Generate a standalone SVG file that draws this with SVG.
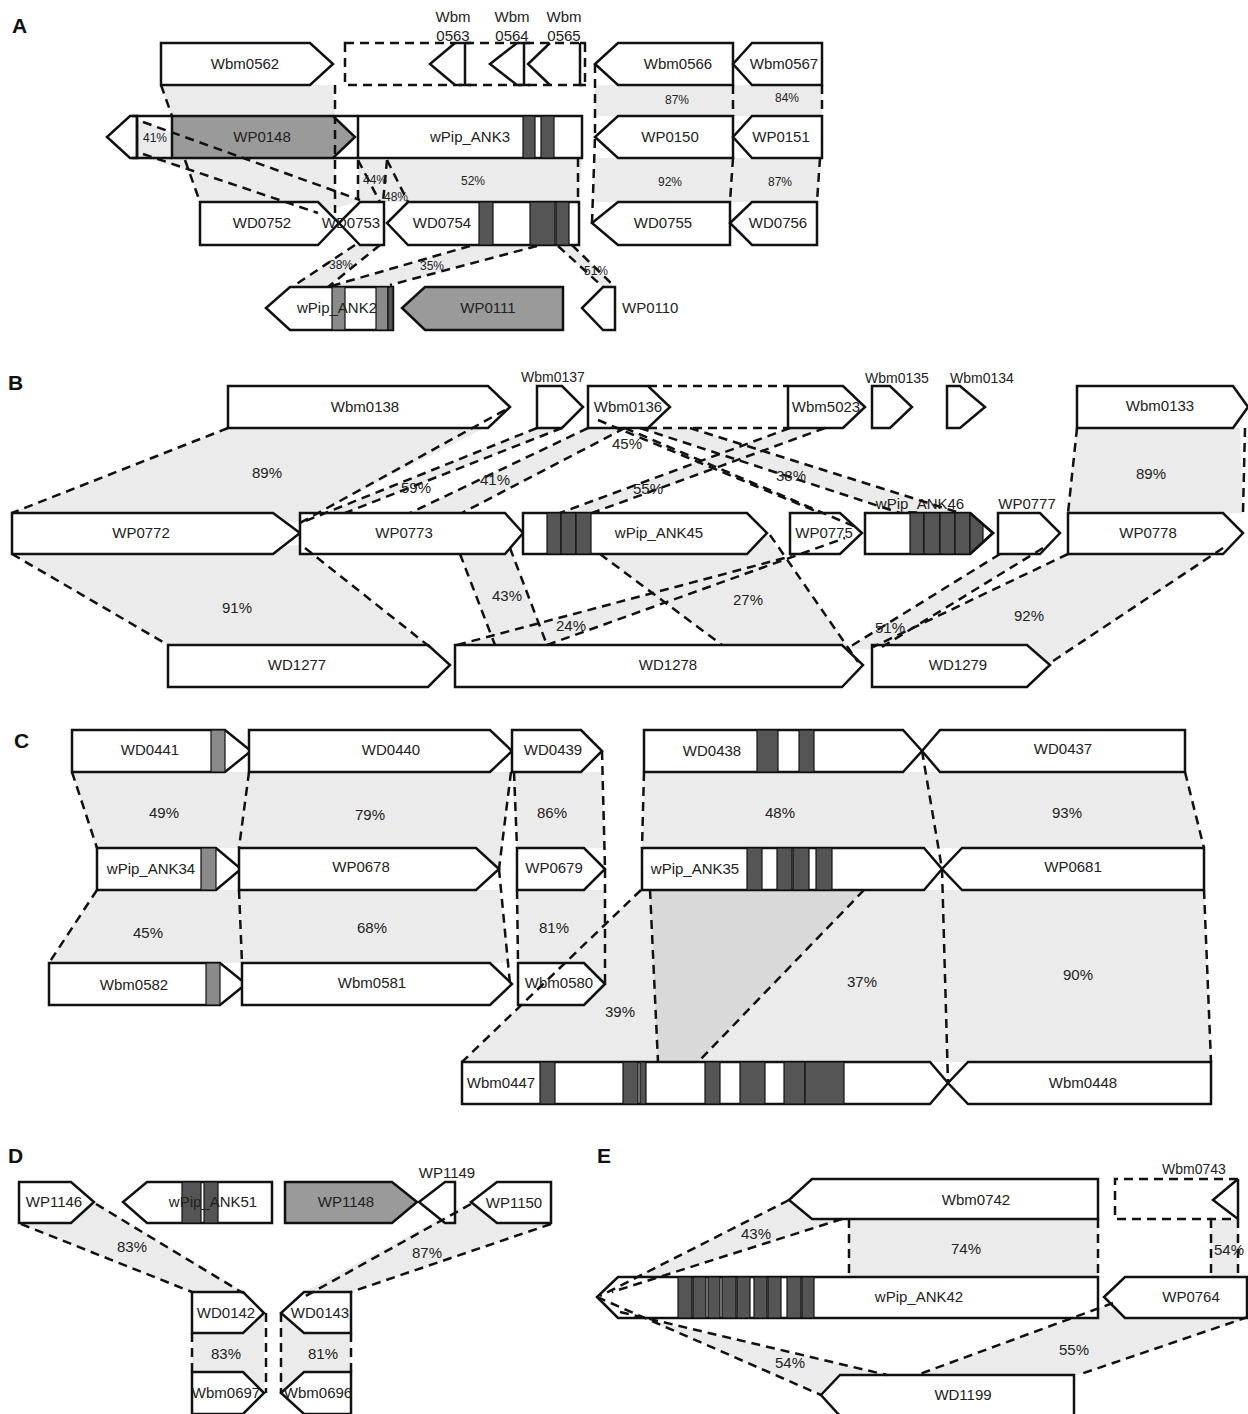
<svg xmlns="http://www.w3.org/2000/svg" width="1248" height="1414" viewBox="0 0 1248 1414">
<style>
.g{fill:#fff;stroke:#111;stroke-width:2.5;stroke-linejoin:miter}
.gg{fill:#9a9a9a;stroke:#111;stroke-width:2.5}
.o{fill:none;stroke:#111;stroke-width:2.5}
.bd{fill:#555;stroke:#111;stroke-width:1.2}
.bm{fill:#8a8a8a;stroke:#111;stroke-width:1.2}
.sh{fill:#ebebeb;stroke:none}
.sd{fill:#d9d9d9;stroke:none}
.dl{fill:none;stroke:#111;stroke-width:2.5;stroke-dasharray:9 6}
text{font-family:"Liberation Sans",Arial,sans-serif;fill:#222}
.t{font-size:15px;text-anchor:middle}
.ts{font-size:14px;text-anchor:middle}
.p{font-size:15px;text-anchor:middle}
.ps{font-size:12px;text-anchor:middle}
.L{font-size:21px;font-weight:bold;fill:#111}
</style>
<rect width="1248" height="1414" fill="#fff"/>

<g id="shades">
<!-- A -->
<polygon class="sh" points="161,85 333,85 335,116 172,116"/>
<polygon class="sh" points="138,120 360,201 325,211 138,156"/>
<polygon class="sh" points="185,158 335,158 335,202 200,202"/>
<polygon class="sh" points="358,158 582,158 579,202 358,202"/>
<polygon class="sh" points="595,85 733,85 733,116 595,116"/>
<polygon class="sh" points="733,85 822,85 822,116 733,116"/>
<polygon class="sh" points="595,158 733,158 730,202 592,202"/>
<polygon class="sh" points="733,158 822,158 817,202 730,202"/>
<polygon class="sh" points="355,245 380,245 328,287 292,287"/>
<polygon class="sh" points="470,246 537,246 390,285 328,287"/>
<polygon class="sh" points="558,246 572,245 615,287 603,287"/>
<!-- B -->
<polygon class="sh" points="228,428 500,420 300,522 12,513"/>
<polygon class="sh" points="537,428 562,428 345,513 303,522"/>
<polygon class="sh" points="588,428 625,428 462,513 410,513"/>
<polygon class="sh" points="598,420 625,428 858,528 820,513"/>
<polygon class="sh" points="640,428 690,428 960,513 900,513"/>
<polygon class="sh" points="790,428 825,428 592,513 560,513"/>
<polygon class="sh" points="1077,428 1240,428 1243,513 1068,513"/>
<polygon class="sh" points="12,554 300,545 430,647 168,645"/>
<polygon class="sh" points="460,554 510,548 547,645 495,645"/>
<polygon class="sh" points="457,645 792,556 845,538 547,645"/>
<polygon class="sh" points="600,554 747,554 767,535 858,660 842,645 722,645"/>
<polygon class="sh" points="1000,554 1043,548 877,650 848,648"/>
<polygon class="sh" points="1068,554 1223,550 1050,663 873,647"/>
<!-- C -->
<polygon class="sh" points="72,772 249,772 239,848 97,848"/>
<polygon class="sh" points="249,772 511,772 499,869 239,848"/>
<polygon class="sh" points="512,772 602,772 605,848 517,848"/>
<polygon class="sh" points="97,890 239,890 242,963 49,963"/>
<polygon class="sh" points="239,890 499,890 510,963 242,963"/>
<polygon class="sh" points="517,890 605,890 605,963 518,963"/>
<polygon class="sh" points="644,772 922,772 942,848 642,848"/>
<polygon class="sh" points="922,772 1185,772 1204,848 942,848"/>
<polygon class="sh" points="641,890 864,890 698,1062 462,1062"/>
<polygon class="sh" points="650,890 942,890 948,1062 658,1062"/>
<polygon class="sd" points="650,890 864,890 698,1062 658,1062"/>
<polygon class="sh" points="942,890 1204,890 1211,1062 948,1062"/>
<!-- D -->
<polygon class="sh" points="19,1223 71,1223 94,1202 243,1292 192,1292"/>
<polygon class="sh" points="471,1202 497,1223 551,1223 351,1292 304,1292"/>
<polygon class="sh" points="192,1333 264,1313 264,1393 192,1372"/>
<polygon class="sh" points="281,1313 351,1333 351,1372 281,1393"/>
<!-- E -->
<polygon class="sh" points="789,1200 842,1219 612,1292 600,1296"/>
<polygon class="sh" points="849,1219 1098,1219 1098,1277 849,1277"/>
<polygon class="sh" points="1211,1219 1238,1219 1238,1277 1211,1277"/>
<polygon class="sh" points="597,1297 640,1318 887,1375 840,1375 821,1395"/>
<polygon class="sh" points="1113,1303 1125,1318 1248,1318 1078,1375 917,1375"/>
</g>

<g id="panel-labels">
<text class="L" x="12" y="33">A</text>
<text class="L" x="8" y="390">B</text>
<text class="L" x="14" y="748">C</text>
<text class="L" x="8" y="1163">D</text>
<text class="L" x="597" y="1163">E</text>
</g>

<!-- Panel A nodes -->
<g id="Wbm0562"><path class="g" d="M161,43H310L333,64L310,85H161Z"/><text class="t" x="245" y="69">Wbm0562</text></g>
<g id="A-dashed-block"><rect class="dl" x="345" y="43" width="240" height="42"/></g>
<g id="Wbm0563"><path class="o" d="M455,43L430,64L455,85M465,43V85M459,43H471M459,85H471"/><text class="t" x="453" y="22">Wbm</text><text class="t" x="453" y="41">0563</text></g>
<g id="Wbm0564"><path class="o" d="M517,43L490,64L517,85M524,43V85M518,43H530M518,85H530"/><text class="t" x="512" y="22">Wbm</text><text class="t" x="512" y="41">0564</text></g>
<g id="Wbm0565"><path class="o" d="M550,43L528,64L550,85M580,43V85M580,43H586M580,85H586"/><text class="t" x="564" y="22">Wbm</text><text class="t" x="564" y="41">0565</text></g>
<g id="Wbm0566"><path class="g" d="M733,43H618L595,64L618,85H733Z"/><text class="t" x="678" y="69">Wbm0566</text></g>
<g id="Wbm0567"><path class="g" d="M822,43H752L733,64L752,85H822Z"/><text class="t" x="784" y="69">Wbm0567</text></g>

<g id="A-left-gene"><path class="g" d="M137,116H130L107,137L130,158H137Z"/><path class="o" d="M137,116H172M137,158H172M137,116V158M132,116H142M132,158H142"/></g>
<g id="WP0148"><path class="gg" d="M172,116H333L355,137L333,158H172Z"/><text class="t" x="262" y="142">WP0148</text></g>
<g id="wPip_ANK3"><path class="o" d="M333,116H358M333,158H358"/><rect class="g" x="358" y="116" width="224" height="42"/><rect class="bd" x="523" y="116" width="12" height="42"/><rect class="bd" x="541" y="116" width="13" height="42"/><text class="t" x="470" y="142">wPip_ANK3</text></g>
<g id="WP0150"><path class="g" d="M733,116H618L595,137L618,158H733Z"/><text class="t" x="670" y="142">WP0150</text></g>
<g id="WP0151"><path class="g" d="M822,116H752L733,137L752,158H822Z"/><text class="t" x="781" y="142">WP0151</text></g>

<g id="WD0752"><path class="g" d="M200,202H318L339,223L318,245H200Z"/><text class="t" x="262" y="228">WD0752</text></g>
<g id="WD0753"><path class="g" d="M384,202H360L339,223L360,245H384Z"/><text class="t" x="351" y="228">WD0753</text></g>
<g id="WD0754"><path class="g" d="M579,202H408L387,223L408,245H579Z"/><rect class="bd" x="479" y="202" width="14" height="43"/><rect class="bd" x="530" y="202" width="25" height="43"/><rect class="bd" x="556" y="202" width="13" height="43"/><text class="t" x="442" y="228">WD0754</text></g>
<g id="WD0755"><path class="g" d="M730,202H618L592,223L618,245H730Z"/><text class="t" x="663" y="228">WD0755</text></g>
<g id="WD0756"><path class="g" d="M817,202H752L730,223L752,245H817Z"/><text class="t" x="778" y="228">WD0756</text></g>

<g id="wPip_ANK2"><path class="g" d="M393,287H290L266,308L290,330H393Z"/><rect class="bm" x="332" y="287" width="13" height="43"/><rect class="bm" x="376" y="287" width="12" height="43"/><rect class="bd" x="388" y="287" width="5" height="43"/><text class="t" x="337" y="313">wPip_ANK2</text></g>
<g id="WP0111"><path class="gg" d="M563,287H425L402,308L425,330H563Z"/><text class="t" x="488" y="313">WP0111</text></g>
<g id="WP0110"><path class="g" d="M615,287H603L582,308L603,330H615Z"/><text x="622" y="313" style="font-size:15px">WP0110</text></g>

<!-- Panel B nodes -->
<g id="Wbm0138"><path class="g" d="M228,386H488L510,407L488,428H228Z"/><text class="t" x="365" y="412">Wbm0138</text></g>
<g id="Wbm0137"><path class="g" d="M537,386H562L583,407L562,428H537Z"/><text class="ts" x="553" y="382">Wbm0137</text></g>
<g id="Wbm0136"><path class="g" d="M588,386H648L670,407L648,428H588Z"/><text class="t" x="628" y="412">Wbm0136</text></g>
<g id="B-dashed-block"><path class="dl" d="M648,386H788M648,428H788"/></g>
<g id="Wbm5023"><path class="g" d="M788,386H843L865,407L843,428H788Z"/><text class="t" x="826" y="412">Wbm5023</text></g>
<g id="Wbm0135"><path class="g" d="M872,386H890L912,407L890,428H872Z"/><text class="ts" x="897" y="383">Wbm0135</text></g>
<g id="Wbm0134"><path class="g" d="M947,386H960L985,407L960,428H947Z"/><text class="ts" x="982" y="383">Wbm0134</text></g>
<g id="Wbm0133"><path class="g" d="M1077,386H1233L1248,407L1233,428H1077Z"/><text class="t" x="1160" y="411">Wbm0133</text></g>

<g id="WP0772"><path class="g" d="M12,513H273L300,533L273,554H12Z"/><text class="t" x="141" y="538">WP0772</text></g>
<g id="WP0773"><path class="g" d="M300,513H505L523,533L505,554H300Z"/><text class="t" x="404" y="538">WP0773</text></g>
<g id="wPip_ANK45"><path class="g" d="M523,513H747L767,533L747,554H523Z"/><rect class="bd" x="547" y="513" width="14" height="41"/><rect class="bd" x="561" y="513" width="15" height="41"/><rect class="bd" x="576" y="513" width="15" height="41"/><text class="t" x="659" y="538">wPip_ANK45</text></g>
<g id="WP0775"><path class="g" d="M790,513H840L862,533L840,554H790Z"/><text class="t" x="824" y="538">WP0775</text></g>
<g id="wPip_ANK46"><path class="g" d="M865,513H970L993,533L970,554H865Z"/><rect class="bd" x="910" y="513" width="14" height="41"/><rect class="bd" x="924" y="513" width="16" height="41"/><rect class="bd" x="940" y="513" width="15" height="41"/><rect class="bd" x="955" y="513" width="15" height="41"/><path class="bd" d="M970,513L983,524.5V542.5L970,554Z"/><path class="o" d="M970,513L993,533L970,554"/><text class="t" x="920" y="509">wPip_ANK46</text></g>
<g id="WP0777"><path class="g" d="M998,513H1040L1060,533L1040,554H998Z"/><text class="t" x="1027" y="509">WP0777</text></g>
<g id="WP0778"><path class="g" d="M1068,513H1223L1243,533L1223,554H1068Z"/><text class="t" x="1148" y="538">WP0778</text></g>

<g id="WD1277"><path class="g" d="M168,645H428L450,665L428,687H168Z"/><text class="t" x="297" y="670">WD1277</text></g>
<g id="WD1278"><path class="g" d="M455,645H842L863,665L842,687H455Z"/><text class="t" x="668" y="670">WD1278</text></g>
<g id="WD1279"><path class="g" d="M872,645H1027L1050,665L1027,687H872Z"/><text class="t" x="958" y="670">WD1279</text></g>

<!-- Panel C nodes -->
<g id="WD0441"><path class="g" d="M72,730H225L251,751L225,772H72Z"/><rect class="bm" x="211" y="730" width="14" height="42"/><text class="t" x="150" y="755">WD0441</text></g>
<g id="WD0440"><path class="g" d="M249,730H490L512,751L490,772H249Z"/><text class="t" x="391" y="755">WD0440</text></g>
<g id="WD0439"><path class="g" d="M512,730H581L602,751L581,772H512Z"/><text class="t" x="553" y="755">WD0439</text></g>
<g id="WD0438"><path class="g" d="M644,730H903L922,751L903,772H644Z"/><rect class="bd" x="757" y="730" width="21" height="42"/><rect class="bd" x="799" y="730" width="15" height="42"/><text class="t" x="712" y="756">WD0438</text></g>
<g id="WD0437"><path class="g" d="M1185,730H940L922,751L940,772H1185Z"/><text class="t" x="1063" y="754">WD0437</text></g>

<g id="wPip_ANK34"><path class="g" d="M97,848H216L241,869L216,890H97Z"/><rect class="bm" x="201" y="848" width="15" height="42"/><text class="t" x="151" y="874">wPip_ANK34</text></g>
<g id="WP0678"><path class="g" d="M239,848H476L499,869L476,890H239Z"/><text class="t" x="361" y="872">WP0678</text></g>
<g id="WP0679"><path class="g" d="M517,848H584L605,869L584,890H517Z"/><text class="t" x="554" y="873">WP0679</text></g>
<g id="wPip_ANK35"><path class="g" d="M642,848H924L942,869L924,890H642Z"/><rect class="bd" x="747" y="848" width="15" height="42"/><rect class="bd" x="777" y="848" width="15" height="42"/><rect class="bd" x="793" y="848" width="16" height="42"/><rect class="bd" x="816" y="848" width="16" height="42"/><text class="t" x="695" y="874">wPip_ANK35</text></g>
<g id="WP0681"><path class="g" d="M1204,848H962L942,869L962,890H1204Z"/><text class="t" x="1073" y="872">WP0681</text></g>

<g id="Wbm0582"><path class="g" d="M49,963H220L246,984L220,1005H49Z"/><rect class="bm" x="206" y="963" width="14" height="42"/><text class="t" x="134" y="990">Wbm0582</text></g>
<g id="Wbm0581"><path class="g" d="M242,963H490L512,984L490,1005H242Z"/><text class="t" x="372" y="988">Wbm0581</text></g>
<g id="Wbm0580"><path class="g" d="M518,963H584L605,984L584,1005H518Z"/><text class="t" x="559" y="988">Wbm0580</text></g>

<g id="Wbm0447"><path class="g" d="M462,1062H930L948,1083L930,1104H462Z"/><rect class="bd" x="540" y="1062" width="15" height="42"/><rect class="bd" x="623" y="1062" width="15" height="42"/><rect class="bd" x="640" y="1062" width="6" height="42"/><rect class="bd" x="705" y="1062" width="15" height="42"/><rect class="bd" x="740" y="1062" width="25" height="42"/><rect class="bd" x="784" y="1062" width="21" height="42"/><rect class="bd" x="805" y="1062" width="39" height="42"/><text class="t" x="501" y="1088">Wbm0447</text></g>
<g id="Wbm0448"><path class="g" d="M1211,1062H968L948,1083L968,1104H1211Z"/><text class="t" x="1083" y="1088">Wbm0448</text></g>

<!-- Panel D nodes -->
<g id="WP1146"><path class="g" d="M19,1182H71L94,1202L71,1223H19Z"/><text class="t" x="54" y="1207">WP1146</text></g>
<g id="wPip_ANK51"><path class="g" d="M272,1182H147L123,1202L147,1223H272Z"/><rect class="bd" x="182" y="1182" width="19" height="41"/><rect class="bd" x="204" y="1182" width="14" height="41"/><text class="t" x="213" y="1207">wPip_ANK51</text></g>
<g id="WP1148"><path class="gg" d="M285,1182H392L417,1202L392,1223H285Z"/><text class="t" x="346" y="1207">WP1148</text></g>
<g id="WP1149"><path class="g" d="M455,1182H445L419,1202L445,1223H455Z"/><text class="t" x="447" y="1178">WP1149</text></g>
<g id="WP1150"><path class="g" d="M551,1182H497L471,1202L497,1223H551Z"/><text class="t" x="514" y="1208">WP1150</text></g>
<g id="WD0142"><path class="g" d="M192,1292H243L264,1313L243,1333H192Z"/><text class="t" x="226" y="1318">WD0142</text></g>
<g id="WD0143"><path class="g" d="M351,1292H304L281,1313L304,1333H351Z"/><text class="t" x="320" y="1318">WD0143</text></g>
<g id="Wbm0697"><path class="g" d="M192,1372H243L264,1393L243,1414H192Z"/><text class="t" x="226" y="1398">Wbm0697</text></g>
<g id="Wbm0696"><path class="g" d="M351,1372H304L281,1393L304,1414H351Z"/><text class="t" x="318" y="1398">Wbm0696</text></g>

<!-- Panel E nodes -->
<g id="Wbm0742"><path class="g" d="M1098,1179H812L789,1200L812,1219H1098Z"/><text class="t" x="976" y="1205">Wbm0742</text></g>
<g id="E-dashed-block"><path class="dl" d="M1238,1179H1115V1219H1238"/></g>
<g id="Wbm0743"><path class="o" d="M1238,1179L1213,1200L1238,1219M1238,1179V1219"/><text class="ts" x="1194" y="1174">Wbm0743</text></g>
<g id="wPip_ANK42"><path class="g" d="M1098,1277H618L597,1297L618,1318H1098Z"/><rect class="bd" x="678" y="1277" width="14" height="41"/><rect class="bd" x="693" y="1277" width="13" height="41"/><rect class="bd" x="708" y="1277" width="12" height="41"/><rect class="bd" x="722" y="1277" width="14" height="41"/><rect class="bd" x="737" y="1277" width="13" height="41"/><rect class="bd" x="754" y="1277" width="13" height="41"/><rect class="bd" x="768" y="1277" width="13" height="41"/><rect class="bd" x="787" y="1277" width="14" height="41"/><rect class="bd" x="802" y="1277" width="12" height="41"/><text class="t" x="919" y="1302">wPip_ANK42</text></g>
<g id="WP0764"><path class="g" d="M1247,1277H1125L1104,1297L1125,1318H1247Z"/><text class="t" x="1191" y="1302">WP0764</text></g>
<g id="WD1199"><path class="g" d="M1074,1375H840L821,1395L840,1416H1074Z"/><text class="t" x="963" y="1400">WD1199</text></g>

<g id="connectors">
<!-- A -->
<path class="dl" d="M161,85L172,116"/>
<path class="dl" d="M335,85V213"/>
<path class="dl" d="M143,122L360,200"/>
<path class="dl" d="M143,154L318,213"/>
<path class="dl" d="M185,160L200,202"/>
<path class="dl" d="M358,160V202"/>
<path class="dl" d="M358,160L380,202"/>
<path class="dl" d="M387,160L383,202"/>
<path class="dl" d="M387,160L408,202"/>
<path class="dl" d="M578,158V202"/>
<path class="dl" d="M595,64V137L592,223"/>
<path class="dl" d="M733,85V116"/>
<path class="dl" d="M733,158L730,202"/>
<path class="dl" d="M822,85V116"/>
<path class="dl" d="M820,158L817,202"/>
<path class="dl" d="M355,245L292,287"/>
<path class="dl" d="M380,245L328,287"/>
<path class="dl" d="M470,246L328,287"/>
<path class="dl" d="M537,246L390,285"/>
<path class="dl" d="M558,246L603,287"/>
<path class="dl" d="M572,245L615,287"/>
<!-- B -->
<path class="dl" d="M228,428L12,513"/>
<path class="dl" d="M505,410L300,523"/>
<path class="dl" d="M537,428L303,522"/>
<path class="dl" d="M562,428L345,513"/>
<path class="dl" d="M588,428L410,513"/>
<path class="dl" d="M625,428L462,513"/>
<path class="dl" d="M598,420L820,513"/>
<path class="dl" d="M625,428L858,528"/>
<path class="dl" d="M640,428L900,513"/>
<path class="dl" d="M690,428L960,513"/>
<path class="dl" d="M790,428L560,513"/>
<path class="dl" d="M825,428L592,513"/>
<path class="dl" d="M1077,428L1068,513"/>
<path class="dl" d="M1245,428L1243,513"/>
<path class="dl" d="M12,554L168,645"/>
<path class="dl" d="M305,548L430,647"/>
<path class="dl" d="M460,554L495,645"/>
<path class="dl" d="M510,548L547,645"/>
<path class="dl" d="M457,645L792,556"/>
<path class="dl" d="M547,645L845,538"/>
<path class="dl" d="M600,554L722,645"/>
<path class="dl" d="M770,535L858,662"/>
<path class="dl" d="M1043,548L877,650"/>
<path class="dl" d="M1000,554L848,648"/>
<path class="dl" d="M1068,554L873,647"/>
<path class="dl" d="M1223,548L1050,663"/>
<!-- C -->
<path class="dl" d="M72,772L97,848"/>
<path class="dl" d="M249,772L239,848"/>
<path class="dl" d="M511,772L499,869"/>
<path class="dl" d="M514,772L517,848"/>
<path class="dl" d="M602,751L605,869"/>
<path class="dl" d="M97,890L49,963"/>
<path class="dl" d="M239,890L242,963"/>
<path class="dl" d="M499,869L510,984"/>
<path class="dl" d="M517,890L518,963"/>
<path class="dl" d="M605,869V984"/>
<path class="dl" d="M641,890L462,1062"/>
<path class="dl" d="M650,890L658,1062"/>
<path class="dl" d="M864,890L698,1062"/>
<path class="dl" d="M644,772L642,848"/>
<path class="dl" d="M922,751L942,869"/>
<path class="dl" d="M1185,772L1204,848"/>
<path class="dl" d="M942,869L948,1083"/>
<path class="dl" d="M1204,890L1211,1062"/>
<!-- D -->
<path class="dl" d="M21,1224L192,1292"/>
<path class="dl" d="M96,1204L243,1293"/>
<path class="dl" d="M551,1224L351,1292"/>
<path class="dl" d="M471,1204L304,1297"/>
<path class="dl" d="M192,1333V1372"/>
<path class="dl" d="M266,1313V1393"/>
<path class="dl" d="M281,1313V1393"/>
<path class="dl" d="M351,1333V1372"/>
<!-- E -->
<path class="dl" d="M789,1200L600,1296"/>
<path class="dl" d="M842,1219L612,1292"/>
<path class="dl" d="M849,1219V1277"/>
<path class="dl" d="M1098,1219V1277"/>
<path class="dl" d="M1211,1219V1277"/>
<path class="dl" d="M1238,1219V1277"/>
<path class="dl" d="M597,1297L821,1395"/>
<path class="dl" d="M620,1312L887,1375"/>
<path class="dl" d="M1113,1303L917,1375"/>
<path class="dl" d="M1248,1317L1078,1375"/>
</g>

<g id="identity-labels">
<text class="ps" x="155" y="142">41%</text>
<text class="ps" x="677" y="104">87%</text>
<text class="ps" x="787" y="102">84%</text>
<text class="ps" x="375" y="184">44%</text>
<text class="ps" x="396" y="201">48%</text>
<text class="ps" x="473" y="185">52%</text>
<text class="ps" x="670" y="186">92%</text>
<text class="ps" x="780" y="186">87%</text>
<text class="ps" x="341" y="269">38%</text>
<text class="ps" x="432" y="270">35%</text>
<text class="ps" x="596" y="275">51%</text>

<text class="p" x="267" y="478">89%</text>
<text class="p" x="416" y="493">59%</text>
<text class="p" x="495" y="485">41%</text>
<text class="p" x="627" y="449">45%</text>
<text class="p" x="648" y="494">55%</text>
<text class="p" x="791" y="481">38%</text>
<text class="p" x="1151" y="479">89%</text>
<text class="p" x="237" y="613">91%</text>
<text class="p" x="507" y="601">43%</text>
<text class="p" x="571" y="631">24%</text>
<text class="p" x="748" y="605">27%</text>
<text class="p" x="890" y="633">51%</text>
<text class="p" x="1029" y="621">92%</text>

<text class="p" x="164" y="818">49%</text>
<text class="p" x="370" y="820">79%</text>
<text class="p" x="552" y="818">86%</text>
<text class="p" x="148" y="938">45%</text>
<text class="p" x="372" y="933">68%</text>
<text class="p" x="554" y="933">81%</text>
<text class="p" x="620" y="1017">39%</text>
<text class="p" x="780" y="818">48%</text>
<text class="p" x="1067" y="818">93%</text>
<text class="p" x="862" y="987">37%</text>
<text class="p" x="1078" y="980">90%</text>

<text class="p" x="132" y="1252">83%</text>
<text class="p" x="427" y="1258">87%</text>
<text class="p" x="226" y="1359">83%</text>
<text class="p" x="323" y="1359">81%</text>

<text class="p" x="756" y="1239">43%</text>
<text class="p" x="966" y="1254">74%</text>
<text class="p" x="1229" y="1255">54%</text>
<text class="p" x="790" y="1368">54%</text>
<text class="p" x="1074" y="1355">55%</text>
</g>
</svg>
